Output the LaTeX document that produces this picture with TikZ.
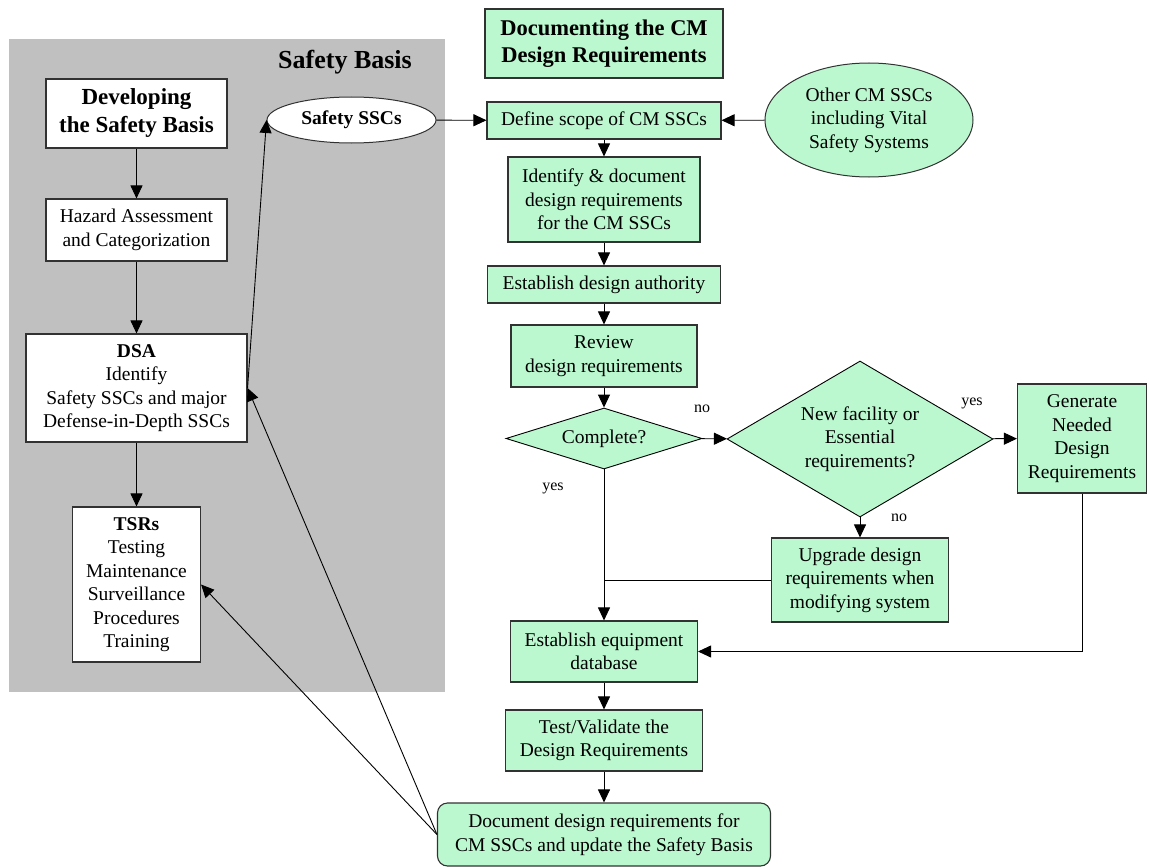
\documentclass[tikz,border=0pt]{standalone}
\usepackage{fontspec}
\setmainfont{Liberation Serif}
\usetikzlibrary{arrows.meta,shapes.geometric}
\definecolor{cmgreen}{RGB}{187,248,207}
\definecolor{sbgray}{RGB}{192,192,192}
\definecolor{edgegray}{RGB}{50,50,50}
\newcommand\fsz[2]{\fontsize{#1}{#2}\selectfont}
\tikzset{
  box/.style={draw=edgegray, line width=1.1pt, fill=white, rectangle, inner sep=0pt, align=center, font=\fsz{19.5}{23.5}},
  gbox/.style={box, fill=cmgreen},
  gdiam/.style={draw=black, line width=0.9pt, fill=cmgreen, diamond, inner sep=0pt, align=center, font=\fsz{19.5}{23.5}},
  arr/.style={draw=black, line width=0.9pt, -{Triangle[length=13pt,width=12pt]}},
  ln/.style={draw=black, line width=0.9pt},
  lbl/.style={inner sep=0pt, font=\fsz{16}{18}},
}
\begin{document}
\begin{tikzpicture}[x=1pt,y=-1pt]
\useasboundingbox (0,0) rectangle (1149,867);
% gray safety basis area
\fill[sbgray] (9,39) rectangle (445,692);
\node[inner sep=0pt, font=\fsz{26}{30}\bfseries] (sbtitle) at (345,62) {Safety Basis};

% left column
\node[box, minimum width=181pt, minimum height=69pt, font=\fsz{23}{28}\bfseries] (dev) at (136.5,113.5) {Developing\\the Safety Basis};
\node[box, minimum width=181pt, minimum height=62pt] (haz) at (136.5,230) {Hazard Assessment\\and Categorization};
\node[box, minimum width=221pt, minimum height=108pt] (dsa) at (136.5,388) {\textbf{DSA}\\Identify\\Safety SSCs and major\\Defense-in-Depth SSCs};
\node[box, minimum width=128pt, minimum height=155pt] (tsr) at (136.5,584.5) {\textbf{TSRs}\\Testing\\Maintenance\\Surveillance\\Procedures\\Training};
\node[box, ellipse, line width=1pt, minimum width=169pt, minimum height=46pt] (ssc) at (351.5,120) {\textbf{Safety SSCs}};

% right column
\node[gbox, minimum width=238pt, minimum height=69pt, font=\fsz{22.5}{27}\bfseries] (title) at (604,43.5) {Documenting the CM\\Design Requirements};
\node[gbox, minimum width=234pt, minimum height=37pt] (def) at (604,120.5) {Define scope of CM SSCs};
\node[gbox, ellipse, line width=1pt, minimum width=208pt, minimum height=114pt] (other) at (869,120) {Other CM SSCs\\including Vital\\Safety Systems};
\node[gbox, minimum width=192pt, minimum height=85pt] (ident) at (604,199.5) {Identify \& document\\design requirements\\for the CM SSCs};
\node[gbox, minimum width=233pt, minimum height=37pt] (auth) at (604,284.5) {Establish design authority};
\node[gbox, minimum width=186pt, minimum height=62pt] (rev) at (604,356) {Review\\design requirements};
\node[gdiam, shape aspect=3.2, minimum width=196pt, minimum height=61pt] (comp) at (604,438.5) {Complete?};
\node[gdiam, shape aspect=1.7, minimum width=266pt, minimum height=156pt] (newf) at (860,439) {New facility or\\Essential\\requirements?};
\node[gbox, minimum width=129pt, minimum height=109pt] (gen) at (1082,438.5) {Generate\\Needed\\Design\\Requirements};
\node[gbox, minimum width=177pt, minimum height=84pt] (upg) at (860,580) {Upgrade design\\requirements when\\modifying system};
\node[gbox, minimum width=187pt, minimum height=61pt] (equip) at (604,651.5) {Establish equipment\\database};
\node[gbox, minimum width=197pt, minimum height=61pt] (test) at (604,740.5) {Test/Validate the\\Design Requirements};
\node[gbox, rounded corners=10pt, minimum width=333pt, minimum height=63pt] (doc) at (604,834.5) {Document design requirements for\\CM SSCs and update the Safety Basis};

% labels
\node[lbl] (lno1) at (702,409) {no};
\node[lbl] (lyes1) at (553,488) {yes};
\node[lbl] (lyes2) at (972,403) {yes};
\node[lbl] (lno2) at (899,518) {no};

% connectors left
\draw[arr] (dev) -- (haz);
\draw[arr] (haz) -- (dsa);
\draw[arr] (dsa) -- (tsr);
\draw[arr] (dsa.east) -- (ssc.west);
\draw[arr] (ssc) -- (def);
\draw[arr] (other) -- (def);

% connectors right
\draw[arr] (def) -- (ident);
\draw[arr] (ident) -- (auth);
\draw[arr] (auth) -- (rev);
\draw[arr] (rev) -- (comp);
\draw[arr] (comp) -- (newf);
\draw[arr] (newf) -- (gen);
\draw[arr] (newf) -- (upg);
\draw[arr] (comp) -- (equip);
\draw[ln] (upg.west) -- (upg.west -| comp.south);
\draw[arr] (gen.south) |- (equip.east);
\draw[arr] (equip) -- (test);
\draw[arr] (test) -- (doc);
\draw[arr] (doc.west) -- (dsa.east);
\draw[arr] (doc.west) -- (tsr.east);
\end{tikzpicture}
\end{document}
